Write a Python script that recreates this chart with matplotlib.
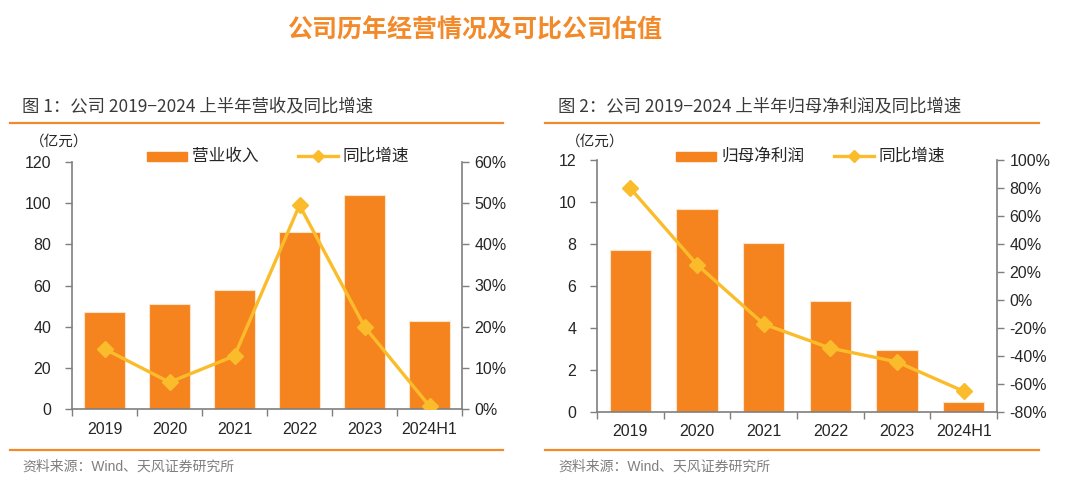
import matplotlib
matplotlib.use("Agg")
import matplotlib.pyplot as plt
from matplotlib.ticker import FuncFormatter
from matplotlib.lines import Line2D

plt.rcParams['font.family'] = ['Liberation Sans', 'Noto Sans CJK SC', 'DejaVu Sans']

categories = ['2019', '2020', '2021', '2022', '2023', '2024H1']
revenue = [47.3, 50.9, 57.7, 86.2, 103.8, 42.6]
revenue_yoy = [14.6, 6.5, 12.9, 49.5, 20.0, 0.7]
profit = [7.72, 9.69, 8.03, 5.28, 2.94, 0.48]
profit_yoy = [79.8, 25.3, -17.2, -34.4, -44.2, -65.2]

BAR = '#F5841F'
LINE = '#FBBC2C'
ORANGE = '#F28A2A'
SPINE = '#7f7f7f'
TXT = '#262626'

fig = plt.figure(figsize=(10.8, 4.92), dpi=100)

fig.text(475/1080, 1-30/492, '公司历年经营情况及可比公司估值', ha='center', va='center',
         fontsize=18, fontweight='bold', color=ORANGE)


def panel(ax_rect, title, tx, line_x, vals, yoy, ylim, yticks, y2lim, y2ticks,
          bar_label, leg_rect_x, leg_line_x):
    ax = fig.add_axes(ax_rect)
    x = list(range(len(categories)))
    ax.bar(x, vals, width=0.62, color=BAR, edgecolor='#FCE3CC', linewidth=0.8, zorder=2)
    ax.set_xlim(-0.5, len(categories) - 0.5)
    ax.set_ylim(*ylim)
    ax.set_yticks(yticks)
    ax.set_xticks(x)
    ax.set_xticklabels(categories)
    ax.set_xticks([i - 0.5 for i in range(len(categories) + 1)], minor=True)
    ax.tick_params(axis='x', which='major', length=0, pad=9, labelsize=11.5, colors=TXT)
    ax.tick_params(axis='x', which='minor', length=5, width=1, color=SPINE, direction='out')
    ax.tick_params(axis='y', length=5, width=1, color=SPINE, labelsize=11.5, labelcolor=TXT, pad=10)
    for s in ['top', 'right']:
        ax.spines[s].set_visible(False)
    for s in ['left', 'bottom']:
        ax.spines[s].set_color(SPINE)
        ax.spines[s].set_linewidth(1.2)

    ax2 = ax.twinx()
    ax2.plot(x, yoy, color=LINE, linewidth=2.4, marker='D', markersize=8, zorder=3)
    ax2.set_ylim(*y2lim)
    ax2.set_yticks(y2ticks)
    ax2.yaxis.set_major_formatter(FuncFormatter(lambda v, p: f'{int(round(v))}%'))
    ax2.tick_params(axis='y', length=5, width=1, color=SPINE, labelsize=11.5, labelcolor=TXT, pad=4)
    for s in ['top', 'left', 'bottom']:
        ax2.spines[s].set_visible(False)
    ax2.spines['right'].set_color(SPINE)
    ax2.spines['right'].set_linewidth(1.2)

    # panel title and rules
    fig.text(tx/1080, 1-106/492, title, ha='left', va='center', fontsize=12.5,
             fontweight='medium', color='#3a3a3a', family=['Noto Sans CJK SC'])
    fig.add_artist(Line2D([line_x[0]/1080, line_x[1]/1080], [1-123/492, 1-123/492],
                          color=ORANGE, linewidth=1.6))
    fig.add_artist(Line2D([line_x[0]/1080, line_x[1]/1080], [1-450/492, 1-450/492],
                          color=ORANGE, linewidth=1.6))
    fig.text(tx/1080, 1-467/492, '资料来源：Wind、天风证券研究所', ha='left', va='center',
             fontsize=10, color='#7f7f7f')
    fig.text((tx+8)/1080, 1-142/492, '（亿元）', ha='left', va='center',
             fontsize=10.5, color=TXT, family=['Noto Sans CJK SC'])

    # legend
    ly = 1-156/492
    fig.add_artist(plt.Rectangle((leg_rect_x/1080, ly-4.5/492), 40/1080, 9/492,
                                 transform=fig.transFigure, color=BAR))
    fig.text((leg_rect_x+45)/1080, ly, bar_label, ha='left', va='center', fontsize=12, color=TXT)
    fig.add_artist(Line2D([leg_line_x/1080, (leg_line_x+40)/1080], [ly, ly], color=LINE,
                          linewidth=2.4))
    fig.add_artist(Line2D([(leg_line_x+20)/1080], [ly], color=LINE, marker='D', markersize=6,
                          linewidth=0))
    fig.text((leg_line_x+45)/1080, ly, '同比增速', ha='left', va='center', fontsize=12, color=TXT)
    return ax, ax2


panel([72/1080, 1-409/492, 390/1080, 247/492], '图 1：公司 2019−2024 上半年营收及同比增速', 22,
      (10, 503), revenue, revenue_yoy, (0, 120), range(0, 121, 20), (0, 60), range(0, 61, 10),
      '营业收入', 147, 298)

panel([597/1080, 1-412/492, 400/1080, 252/492], '图 2：公司 2019−2024 上半年归母净利润及同比增速', 558,
      (545, 1039), profit, profit_yoy, (0, 12), range(0, 13, 2), (-80, 100), range(-80, 101, 20),
      '归母净利润', 676, 834)

fig.savefig('out.png', dpi=100)
